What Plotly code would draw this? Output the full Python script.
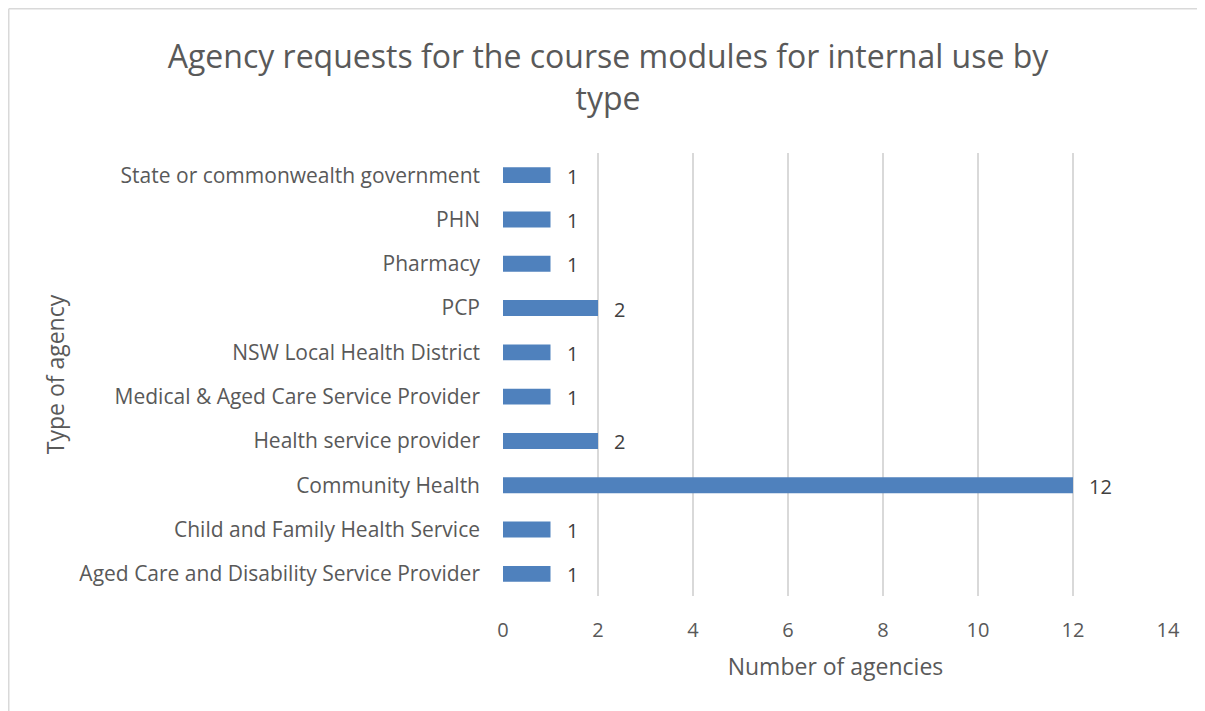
import plotly.graph_objects as go

categories = [
    "Aged Care and Disability Service Provider",
    "Child and Family Health Service",
    "Community Health",
    "Health service provider",
    "Medical & Aged Care Service Provider",
    "NSW Local Health District",
    "PCP",
    "Pharmacy",
    "PHN",
    "State or commonwealth government",
]
values = [1, 1, 12, 2, 1, 1, 2, 1, 1, 1]
x_ticks = [0, 2, 4, 6, 8, 10, 12, 14]

title_text = "Agency requests for the course modules for internal use by<br>type"
x_title = "Number of agencies"
y_title = "Type of agency"

# page is rendered with an 8px body offset; size the figure to fit
W, H = 1197, 703
L, T = 495, 145
R, B = W - 1160, H - 588
pw, ph = W - L - R, H - T - B

FONT = "Open Sans"
GRAY = "#595959"

fig = go.Figure()
fig.add_trace(go.Bar(
    x=values, y=categories, orientation="h",
    marker=dict(color="#4F81BD", line=dict(width=0)),
    width=0.36,
    hoverinfo="skip",
))

for c, v in zip(categories, values):
    fig.add_annotation(x=v, y=c, text=str(v), showarrow=False,
                       xanchor="left", xshift=14, yshift=-1,
                       font=dict(family=FONT, size=20, color="#404040"))

# chart border: only the top and left edges fall inside the view
bx0 = (0.75 - L) / pw
bx1 = (W + 60 - L) / pw
by1 = (H - B - 0.75) / ph
by0 = (H - B - (H + 60)) / ph
border = dict(color="#d9d9d9", width=1.5)
fig.add_shape(type="line", xref="paper", yref="paper",
              x0=bx0, x1=bx1, y0=by1, y1=by1, line=border)
fig.add_shape(type="line", xref="paper", yref="paper",
              x0=bx0, x1=bx0, y0=by0, y1=by1, line=border)

fig.update_layout(
    width=W, height=H,
    margin=dict(l=L, r=R, t=T, b=B),
    paper_bgcolor="white", plot_bgcolor="white",
    showlegend=False,
    font=dict(family=FONT, color=GRAY),
    title=dict(text=title_text, x=600 / W, xanchor="center",
               y=1 - 60 / H, yanchor="middle",
               font=dict(family=FONT, size=32, color=GRAY)),
    xaxis=dict(range=[0, 14], tickvals=x_ticks, showgrid=True,
               gridcolor="#d9d9d9", gridwidth=1.5, zeroline=False,
               showline=False, ticks="", ticklabelstandoff=20,
               tickfont=dict(family=FONT, size=20, color=GRAY),
               title=dict(text=x_title, standoff=16,
                          font=dict(family=FONT, size=23, color=GRAY))),
    yaxis=dict(categoryorder="array", categoryarray=categories,
               showgrid=False, zeroline=False, showline=False, ticks="",
               ticklabelstandoff=22,
               tickfont=dict(family=FONT, size=21, color=GRAY),
               title=dict(text=y_title, standoff=8,
                          font=dict(family=FONT, size=23, color=GRAY))),
)

fig.write_html("out.html")
